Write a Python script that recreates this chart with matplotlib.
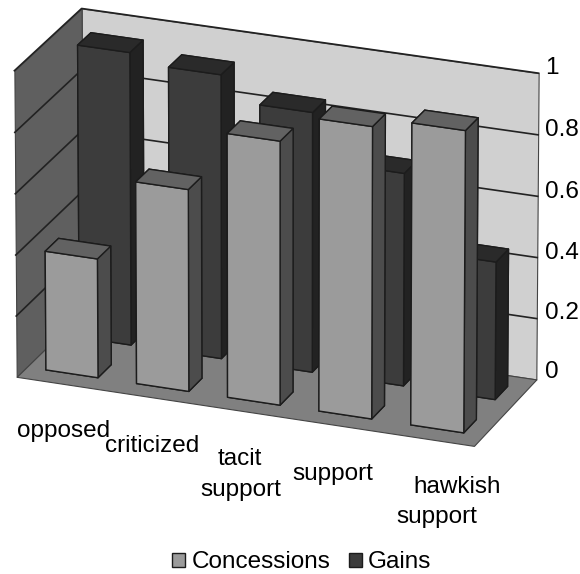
import matplotlib
matplotlib.use('Agg')
import matplotlib.pyplot as plt
from matplotlib.patches import Patch
from mpl_toolkits.mplot3d.art3d import Poly3DCollection

plt.rc('font', family='Liberation Sans', size=17.5)

# dados
categorias = ['opposed', 'criticized', 'tacit support', 'support', 'hawkish support']
concessions = [0.39, 0.66, 0.86, 0.95, 0.98]
gains = [0.96, 0.93, 0.85, 0.695, 0.45]
ticks = [0, 0.2, 0.4, 0.6, 0.8, 1]
tick_labels = ['0', '0.2', '0.4', '0.6', '0.8', '1']

larg = 0.575
prof = 0.40
x0, x1 = -0.5, 4.5
y0, y1 = -0.5, 1.5

cores_conc = ['#808080', '#626262', '#9b9b9b', '#9b9b9b', '#4c4c4c', '#4c4c4c']
cores_gain = ['#808080', '#2a2a2a', '#3c3c3c', '#3c3c3c', '#222222', '#222222']
borda = '#1c1c1c'

fig = plt.figure(figsize=(5.8, 5.74), dpi=100)
ax = fig.add_axes([-0.047, 0.083, 1.02, 1.02], projection='3d')
ax.set_proj_type('persp', focal_length=4.5)
ax.view_init(elev=22.4, azim=-69)
ax.set_box_aspect((482, 178, 326), zoom=1.025)
ax.set_xlim(x0, x1, view_margin=0)
ax.set_ylim(y0, y1, view_margin=0)
ax.set_zlim(0, 1, view_margin=0)
ax.set_axis_off()
ax.computed_zorder = False

# paredes e piso
parede_fundo = [(x0, y1, 0), (x1, y1, 0), (x1, y1, 1), (x0, y1, 1)]
parede_esq = [(x0, y0, 0), (x0, y1, 0), (x0, y1, 1), (x0, y0, 1)]
piso = [(x0, y0, 0), (x1, y0, 0), (x1, y1, 0), (x0, y1, 0)]
for verts, cor in [(parede_fundo, '#d0d0d0'), (parede_esq, '#5f5f5f'), (piso, '#808080')]:
    ax.add_collection3d(Poly3DCollection([verts], facecolor=cor, edgecolor='#444444',
                                         linewidth=0.8, zorder=1))

# linhas de grade
for t in ticks[1:]:
    ax.plot([x0, x0, x1], [y0, y1, y1], [t, t, t], color='#222222', lw=1.2, zorder=2)

# barras: fundo primeiro, depois frente
z = 3
for linha, valores, cores in [(1, gains, cores_gain), (0, concessions, cores_conc)]:
    for i, v in enumerate(valores):
        ax.bar3d(i - larg/2, linha - prof/2, 0, larg, prof, v, color=cores, shade=False,
                 edgecolor=borda, linewidth=1, zorder=z)
        z += 1

# textos
def txt(x, y, s, **kw):
    fig.text(x/580, 1 - y/574, s, va='center', **kw)

tick_y = [372, 313, 253, 192, 130, 68]
for ty, s in zip(tick_y, tick_labels):
    txt(545, ty, s, ha='left')

txt(17, 431, 'opposed', ha='left')
txt(152, 446, 'criticized', ha='center')
txt(240, 459, 'tacit', ha='center')
txt(241, 490, 'support', ha='center')
txt(333, 474, 'support', ha='center')
txt(457, 487, 'hawkish', ha='center')
txt(437, 517, 'support', ha='center')

hs = [Patch(facecolor='#9b9b9b', edgecolor=borda, label='Concessions'),
      Patch(facecolor='#3c3c3c', edgecolor=borda, label='Gains')]
fig.legend(handles=hs, loc='lower left', bbox_to_anchor=(172/580, 0.001), ncol=2, frameon=False,
           handlelength=0.55, handleheight=0.55, handletextpad=0.25, columnspacing=0.75,
           borderpad=0, borderaxespad=0)

fig.savefig('out.png', dpi=100)
